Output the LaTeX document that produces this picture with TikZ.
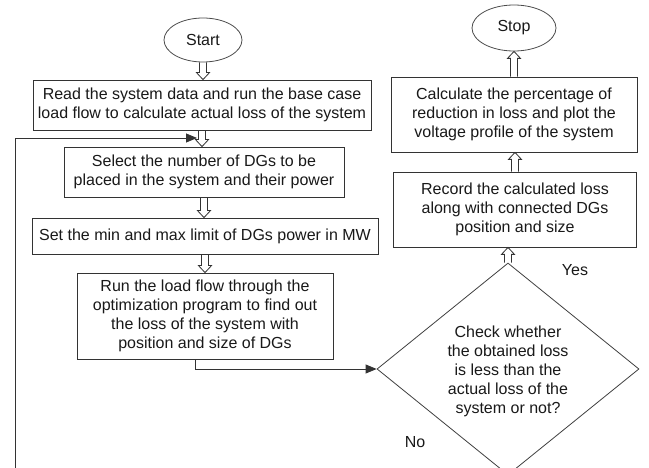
\documentclass[tikz,border=0pt]{standalone}
\usepackage{fontspec}
\setmainfont{Liberation Sans}
\usetikzlibrary{shapes.geometric,arrows.meta,calc}
\newcommand\hdown[2]{%
  \draw[conn] let \p1=(#1), \p2=(#2) in
    (\x1-3.5pt,\y1) -- (\x1-3.5pt,\y2+7pt) -- (\x1-6.5pt,\y2+7pt) -- (\x1,\y2)
    -- (\x1+6.5pt,\y2+7pt) -- (\x1+3.5pt,\y2+7pt) -- (\x1+3.5pt,\y1);}
\newcommand\hup[2]{%
  \draw[conn] let \p1=(#1), \p2=(#2) in
    (\x1-3.5pt,\y1) -- (\x1-3.5pt,\y2-7pt) -- (\x1-6.5pt,\y2-7pt) -- (\x1,\y2)
    -- (\x1+6.5pt,\y2-7pt) -- (\x1+3.5pt,\y2-7pt) -- (\x1+3.5pt,\y1);}
\begin{document}
\begin{tikzpicture}[x=1pt,y=-1pt,
  every node/.style={font=\fontsize{16}{19}\selectfont, text=black!90},
  box/.style={draw=black!80, line width=0.8pt, align=center, inner sep=0pt},
  oval/.style={ellipse, draw=black!70, line width=0.8pt, inner sep=0pt},
  conn/.style={draw=black!80, line width=0.8pt},
  arr/.style={conn, -{Triangle[length=11pt,width=9pt]}}]
\useasboundingbox[fill=white] (0,0) rectangle (649,468);

\node[oval, minimum width=78pt, minimum height=44pt] (start) at (203,40) {Start};
\node[box, minimum width=338pt, minimum height=50pt] (b1) at (202,105)
  {Read the system data and run the base case\\load flow to calculate actual loss of the system};
\node[box, minimum width=280pt, minimum height=50pt] (b2) at (204,172)
  {Select the number of DGs to be\\placed in the system and their power};
\node[box, minimum width=346pt, minimum height=36pt] (b3) at (205,236)
  {Set the min and max limit of DGs power in MW};
\node[box, minimum width=256pt, minimum height=86pt] (b4) at (205,316)
  {Run the load flow through the\\optimization program to find out\\the loss of the system with\\position and size of DGs};

\node[diamond, draw=black!75, line width=0.8pt, inner sep=0pt,
  minimum width=262pt, minimum height=212pt] (d) at (508,369) {};
\node[align=center] (dt) at (508,371)
  {Check whether\\the obtained loss\\is less than the\\actual loss of the\\system or not?};

\node[box, minimum width=243pt, minimum height=75pt] (b5) at (515,209.5)
  {Record the calculated loss\\along with connected DGs\\position and size};
\node[box, minimum width=246pt, minimum height=75pt] (b6) at (514,114.5)
  {Calculate the percentage of\\reduction in loss and plot the\\voltage profile of the system};
\node[oval, minimum width=84pt, minimum height=46pt] (stop) at (514,28) {Stop};

\node (yes) at (575,270) {Yes};
\node (no) at (415,442) {No};

\hdown{start.south}{b1.north}
\hdown{b1.south}{b2.north}
\hdown{b2.south}{b3.north}
\hdown{b3.south}{b4.north}
\hup{d.north}{b5.south}
\hup{b5.north}{b6.south}
\hup{b6.north}{stop.south}

\coordinate (fb0) at (15,470);
\coordinate (fb1) at (197,138);
\draw[arr] (fb0) |- (fb1);
\draw[arr] ([xshift=-10pt]b4.south) |- (d.west);
\end{tikzpicture}
\end{document}
